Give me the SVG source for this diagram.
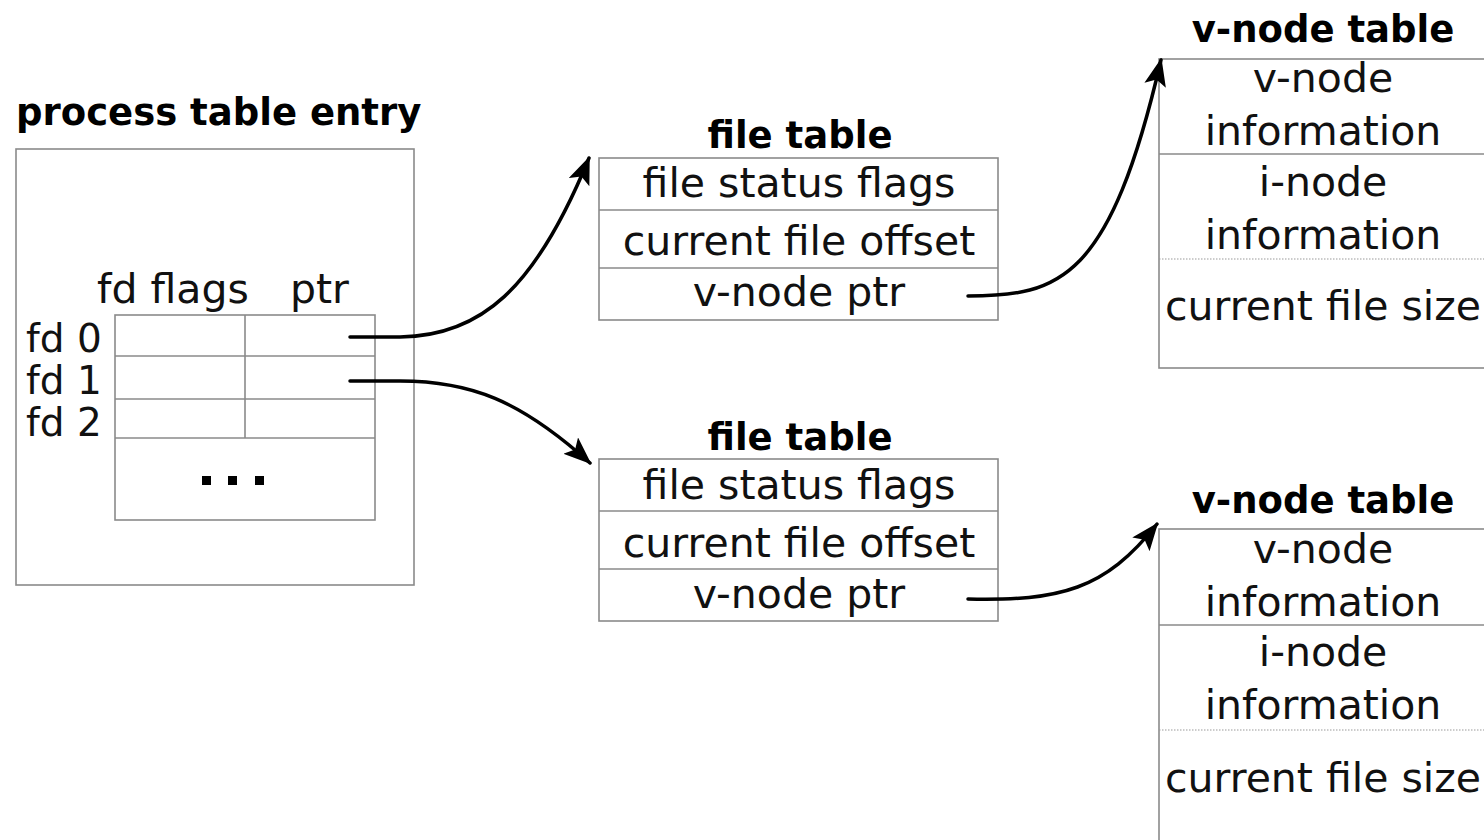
<svg xmlns="http://www.w3.org/2000/svg" width="1484" height="840" viewBox="0 0 1484 840">
  <style>
    .box { fill: none; stroke: #8a8a8a; stroke-width: 1.6; }
    .dot { fill: none; stroke: #9a9a9a; stroke-width: 1.2; stroke-dasharray: 1.5 1.5; }
    .t { font-family: "DejaVu Sans", "Liberation Sans", sans-serif; font-size: 41px; fill: #111; }
    .fd { font-family: "DejaVu Sans", "Liberation Sans", sans-serif; font-size: 39px; fill: #111; }
    .c { text-anchor: middle; }
    .h { font-family: "DejaVu Sans", "Liberation Sans", sans-serif; font-size: 37px; font-weight: bold; fill: #000; }
    .wire { fill: none; stroke: #000; stroke-width: 3.5; stroke-linecap: round; }
  </style>
  <defs>
    <marker id="arrow" viewBox="0 0 28 22" refX="26" refY="11" markerWidth="28" markerHeight="22" markerUnits="userSpaceOnUse" orient="auto">
      <path d="M0,0 L28,11 L0,22 L6,11 Z" fill="#000"/>
    </marker>
  </defs>

  <!-- process table entry -->
  <g id="process-table">
    <text class="h" x="16" y="125">process table entry</text>
    <rect class="box" x="16" y="149" width="398" height="436"/>
    <text class="t" x="97" y="303">fd flags</text>
    <text class="t" x="290" y="303">ptr</text>
    <rect class="box" x="115" y="315" width="260" height="205"/>
    <line class="box" x1="115" y1="356" x2="375" y2="356"/>
    <line class="box" x1="115" y1="399" x2="375" y2="399"/>
    <line class="box" x1="115" y1="438" x2="375" y2="438"/>
    <line class="box" x1="245" y1="315" x2="245" y2="438"/>
    <text class="fd" x="26" y="352">fd 0</text>
    <text class="fd" x="26" y="394">fd 1</text>
    <text class="fd" x="26" y="436">fd 2</text>
    <rect x="202" y="476" width="9" height="9" fill="#000"/>
    <rect x="228" y="476" width="9" height="9" fill="#000"/>
    <rect x="255" y="476" width="9" height="9" fill="#000"/>
  </g>

  <!-- upper file table -->
  <g id="file-table-1">
    <text class="h c" x="800" y="148">file table</text>
    <rect class="box" x="599" y="158" width="399" height="162"/>
    <line class="box" x1="599" y1="210" x2="998" y2="210"/>
    <line class="box" x1="599" y1="268" x2="998" y2="268"/>
    <text class="t c" x="799" y="197">file status flags</text>
    <text class="t c" x="799" y="255">current file offset</text>
    <text class="t c" x="799" y="306">v-node ptr</text>
  </g>

  <!-- lower file table -->
  <g id="file-table-2">
    <text class="h c" x="800" y="450">file table</text>
    <rect class="box" x="599" y="459" width="399" height="162"/>
    <line class="box" x1="599" y1="511" x2="998" y2="511"/>
    <line class="box" x1="599" y1="569" x2="998" y2="569"/>
    <text class="t c" x="799" y="499">file status flags</text>
    <text class="t c" x="799" y="557">current file offset</text>
    <text class="t c" x="799" y="608">v-node ptr</text>
  </g>

  <!-- upper v-node table -->
  <g id="vnode-table-1">
    <text class="h c" x="1323" y="42">v-node table</text>
    <rect class="box" x="1159" y="59" width="330" height="309"/>
    <line class="box" x1="1159" y1="154" x2="1484" y2="154"/>
    <line class="dot" x1="1159" y1="259" x2="1484" y2="259"/>
    <text class="t c" x="1323" y="92">v-node</text>
    <text class="t c" x="1323" y="145">information</text>
    <text class="t c" x="1323" y="196">i-node</text>
    <text class="t c" x="1323" y="249">information</text>
    <text class="t c" x="1323" y="320">current file size</text>
  </g>

  <!-- lower v-node table -->
  <g id="vnode-table-2">
    <text class="h c" x="1323" y="513">v-node table</text>
    <rect class="box" x="1159" y="529" width="330" height="320"/>
    <line class="box" x1="1159" y1="625" x2="1484" y2="625"/>
    <line class="dot" x1="1159" y1="730" x2="1484" y2="730"/>
    <text class="t c" x="1323" y="563">v-node</text>
    <text class="t c" x="1323" y="616">information</text>
    <text class="t c" x="1323" y="666">i-node</text>
    <text class="t c" x="1323" y="719">information</text>
    <text class="t c" x="1323" y="792">current file size</text>
  </g>

  <!-- pointers -->
  <g id="connectors">
    <path class="wire" marker-end="url(#arrow)" d="M350,337 L400,337 C480,336 535,290 589,158"/>
    <path class="wire" marker-end="url(#arrow)" d="M350,381 L400,381 C470,381 520,400 590,463"/>
    <path class="wire" marker-end="url(#arrow)" d="M968,296 C1060,296 1110,280 1161,60"/>
    <path class="wire" marker-end="url(#arrow)" d="M968,599 C1060,601 1105,590 1157,524"/>
  </g>
</svg>
